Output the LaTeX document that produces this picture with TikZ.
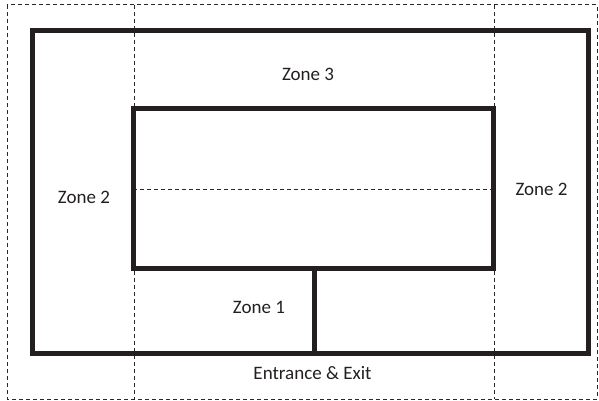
\documentclass[tikz,border=0pt]{standalone}
\usepackage{fontspec}
\setmainfont{Carlito}
\begin{document}
\begin{tikzpicture}[x=1pt,y=-1pt,
  wall/.style={line width=5pt, draw={rgb,255:red,35;green,31;blue,32}},
  guide/.style={line width=1pt, draw={rgb,255:red,40;green,40;blue,40}, dash pattern=on 4pt off 3pt},
  lbl/.style={font=\fontsize{19}{22}\selectfont, inner sep=0pt, anchor=base, text={rgb,255:red,35;green,31;blue,32}}]
\useasboundingbox (0,0) rectangle (599,401);
% guides
\draw[guide] (7,5) rectangle (597,399);
\coordinate (gt1) at (134,5); \coordinate (gb1) at (134,399);
\coordinate (gt2) at (494,5); \coordinate (gb2) at (494,399);
\draw[guide] (gt1) -- (gb1);
\draw[guide] (gt2) -- (gb2);
\coordinate (hl) at (133,189); \coordinate (hr) at (494,189);
\draw[guide] (hl) -- (hr);
% walls
\draw[wall] (32,31) rectangle (588,353);
\draw[wall] (133,109) rectangle (493,268);
\coordinate (vt) at (314.5,268); \coordinate (vb) at (314.5,353);
\draw[wall] (vt) -- (vb);
% labels
\node[lbl] (z3) at (308,81) {Zone 3};
\node[lbl] (z2l) at (84,203.3) {Zone 2};
\node[lbl] (z2r) at (541.5,195) {Zone 2};
\node[lbl] (z1) at (259,313.3) {Zone 1};
\node[lbl] (ee) at (312.5,379) {Entrance \& Exit};
\end{tikzpicture}
\end{document}
